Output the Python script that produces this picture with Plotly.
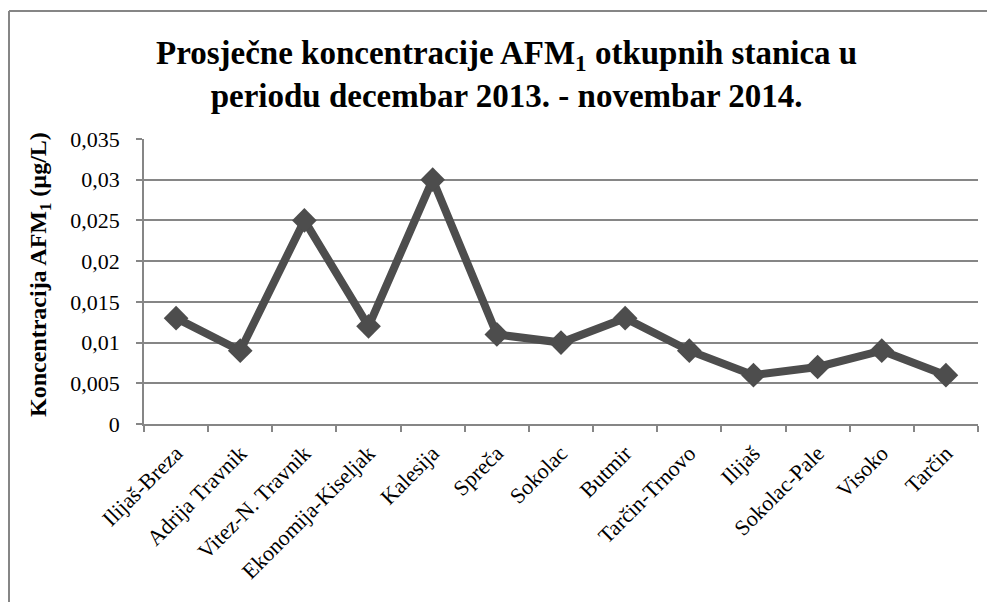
import plotly.graph_objects as go

categories = ["Ilijaš-Breza", "Adrija Travnik", "Vitez-N. Travnik", "Ekonomija-Kiseljak",
              "Kalesija", "Spreča", "Sokolac", "Butmir", "Tarčin-Trnovo", "Ilijaš",
              "Sokolac-Pale", "Visoko", "Tarčin"]
values = [0.013, 0.009, 0.025, 0.012, 0.030, 0.011, 0.010, 0.013, 0.009, 0.006, 0.007, 0.009, 0.006]
y_tickvals = [0, 0.005, 0.01, 0.015, 0.02, 0.025, 0.03, 0.035]
y_ticktext = ["0", "0,005", "0,01", "0,015", "0,02", "0,025", "0,03", "0,035"]

title_text = "<b>Prosječne koncentracije AFM<sub>1</sub> otkupnih stanica u<br>periodu decembar 2013. - novembar 2014.</b>"
ytitle_text = "<b>Koncentracija AFM<sub>1</sub> (µg/L)</b>"

# page has an 8px body margin; figure coords = screen coords - 8
W, H = 979, 594
L, R, T, B = 136, 9, 131, 178
pw, ph = W - L - R, H - T - B

def px_x(x):
    return (x - L) / pw

def px_y(y):
    return (H - B - y) / ph

FONT = "Liberation Serif"
LINE_COL = "#4d4d4d"
GRID_COL = "#868686"

fig = go.Figure()
fig.add_trace(go.Scatter(
    x=categories, y=values, mode="lines+markers",
    line=dict(color=LINE_COL, width=8),
    marker=dict(symbol="diamond", size=19, color=LINE_COL),
    showlegend=False, hoverinfo="x+y",
))

border = dict(color=GRID_COL, width=2)

fig.update_layout(
    width=W, height=H,
    margin=dict(l=L, r=R, t=T, b=B, autoexpand=False),
    paper_bgcolor="white", plot_bgcolor="white",
    font=dict(family=FONT, size=22, color="black"),
    xaxis=dict(
        type="category", range=[-0.5, len(categories) - 0.5],
        showgrid=False, showline=True, linecolor=GRID_COL, linewidth=1.5,
        ticks="outside", ticklen=6, tickcolor=GRID_COL, tickwidth=1.5,
        tickson="boundaries", tickangle=-45, ticklabelstandoff=6,
        tickfont=dict(family=FONT, size=22, color="black"),
    ),
    yaxis=dict(
        range=[0, 0.035], tickvals=y_tickvals, ticktext=y_ticktext,
        showgrid=True, gridcolor=GRID_COL, gridwidth=1.5,
        showline=True, linecolor=GRID_COL, linewidth=1.5,
        ticks="outside", ticklen=6, tickcolor=GRID_COL, tickwidth=1.5,
        ticklabelstandoff=12,
        tickfont=dict(family=FONT, size=22, color="black"),
        zeroline=False,
    ),
    shapes=[
        dict(type="line", xref="paper", yref="paper",
             x0=px_x(1), x1=px_x(1), y0=px_y(3), y1=px_y(H + 40), line=border, layer="below"),
        dict(type="line", xref="paper", yref="paper",
             x0=px_x(1), x1=px_x(W + 40), y0=px_y(3), y1=px_y(3), line=border, layer="below"),
    ],
    annotations=[
        dict(text=title_text, xref="paper", yref="paper", x=px_x(498), y=px_y(67),
             xanchor="center", yanchor="middle", showarrow=False,
             font=dict(family=FONT, size=33, color="black")),
        dict(text=ytitle_text, xref="paper", yref="paper", x=px_x(32), y=px_y(267),
             xanchor="center", yanchor="middle", showarrow=False, textangle=-90,
             font=dict(family=FONT, size=24, color="black")),
    ],
)

fig.write_html("out.html")
